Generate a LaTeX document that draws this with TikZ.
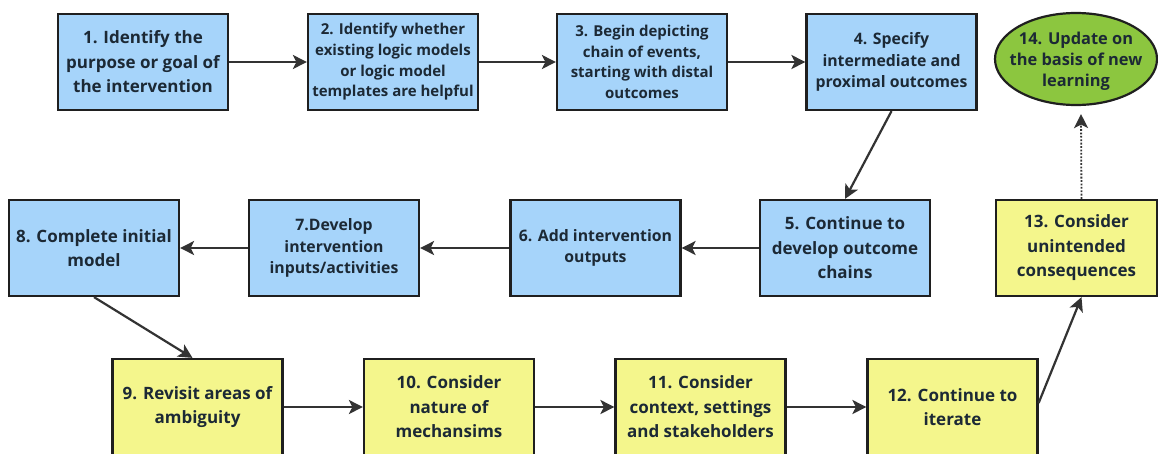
\documentclass[tikz,border=0pt]{standalone}
\usepackage{fontspec}
\setmainfont{Open Sans}
\usetikzlibrary{arrows.meta,shapes.geometric,calc}
\definecolor{boxblue}{HTML}{A6D4FA}
\definecolor{boxyellow}{HTML}{F4F68C}
\definecolor{ovalgreen}{HTML}{8CC63F}
\definecolor{edgedark}{HTML}{1F1F1F}
\definecolor{arrowgray}{HTML}{333333}
\definecolor{txtdark}{HTML}{1C2935}
\newcommand\szA{\fontsize{17}{24.5}\selectfont}
\newcommand\szB{\fontsize{15.8}{21.5}\selectfont}
\newcommand\szC{\fontsize{15}{20.7}\selectfont}
\newcommand\szD{\fontsize{16.4}{21}\selectfont}
\begin{document}
\begin{tikzpicture}[x=1pt,y=-1pt,
  stepbox/.style={draw=edgedark, line width=2.2pt, minimum width=170pt, minimum height=96pt,
    inner sep=0pt, align=center, text=txtdark},
  bluebox/.style={stepbox, fill=boxblue},
  yellowbox/.style={stepbox, fill=boxyellow},
  txtA/.style={font=\bfseries\szA},
  txtB/.style={font=\bfseries\szB},
  txtC/.style={font=\bfseries\szC},
  txtD/.style={font=\bfseries\szD},
  flow/.style={draw=arrowgray, line width=2.2pt, -{Stealth[length=14pt,width=14pt,inset=3.5pt]}},
  dotflow/.style={flow, line width=1.8pt, dash pattern=on 1.8pt off 1.6pt}]
\useasboundingbox[fill=white] (0,0) rectangle (1158,453);

% top row
\node[bluebox, txtA] (b1) at (143,62) {1. Identify the\\ purpose or goal of\\ the intervention};
\node[bluebox, txtC] (b2) at (393,62) {2. Identify whether\\ existing logic models\\ or logic model\\ templates are helpful};
\node[bluebox, txtC] (b3) at (642,62) {3. Begin depicting\\ chain of events,\\ starting with distal\\ outcomes};
\node[bluebox, txtB] (b4) at (891.5,62) {4. Specify\\ intermediate and\\ proximal outcomes};
\node[ellipse, draw=edgedark, line width=2.2pt, fill=ovalgreen, minimum width=162pt, minimum height=92pt,
  inner sep=0pt] (b14) at (1076,59) {};
\node[align=center, text=txtdark, txtD, inner sep=0pt] (b14text) at ([yshift=-2pt]b14.center)
  {14. Update on\\ the basis of new\\ learning};

% middle row
\node[bluebox, txtA] (b8) at (94,248) {8. Complete initial\\ model};
\node[bluebox, txtB] (b7) at (334,248) {7.Develop\\ intervention\\ inputs/activities};
\node[bluebox, txtB] (b6) at (595.5,248) {6. Add intervention\\ outputs};
\node[bluebox, txtA] (b5) at (845,248) {5. Continue to\\ develop outcome\\ chains};
\node[yellowbox, txtA, minimum width=161pt] (b13) at (1076.5,248) {13. Consider\\ unintended\\ consequences};

% bottom row
\node[yellowbox, txtA] (b9) at (197.5,407) {9. Revisit areas of\\ ambiguity};
\node[yellowbox, txtA] (b10) at (449,407) {10. Consider\\ nature of\\ mechansims};
\node[yellowbox, txtA] (b11) at (700.5,407) {11. Consider\\ context, settings\\ and stakeholders};
\node[yellowbox, txtA] (b12) at (952.5,407) {12. Continue to\\ iterate};

% connectors
\draw[flow] (b1.east) -- (b2.west);
\draw[flow] (b2.east) -- (b3.west);
\draw[flow] (b3.east) -- (b4.west);
\draw[flow] (b4.south) -- (b5.north);
\draw[flow] (b5.west) -- (b6.east);
\draw[flow] (b6.west) -- (b7.east);
\draw[flow] (b7.west) -- (b8.east);
\draw[flow] (b8.south) -- ([xshift=-5pt]b9.north);
\draw[flow] (b9.east) -- (b10.west);
\draw[flow] (b10.east) -- (b11.west);
\draw[flow] (b11.east) -- (b12.west);
\draw[flow] ([yshift=4pt]b12.east) -- ([xshift=5pt]b13.south);
\draw[dotflow] ([xshift=5pt]b13.north) -- ([xshift=5pt,yshift=-8pt]b14.south);
\end{tikzpicture}
\end{document}
